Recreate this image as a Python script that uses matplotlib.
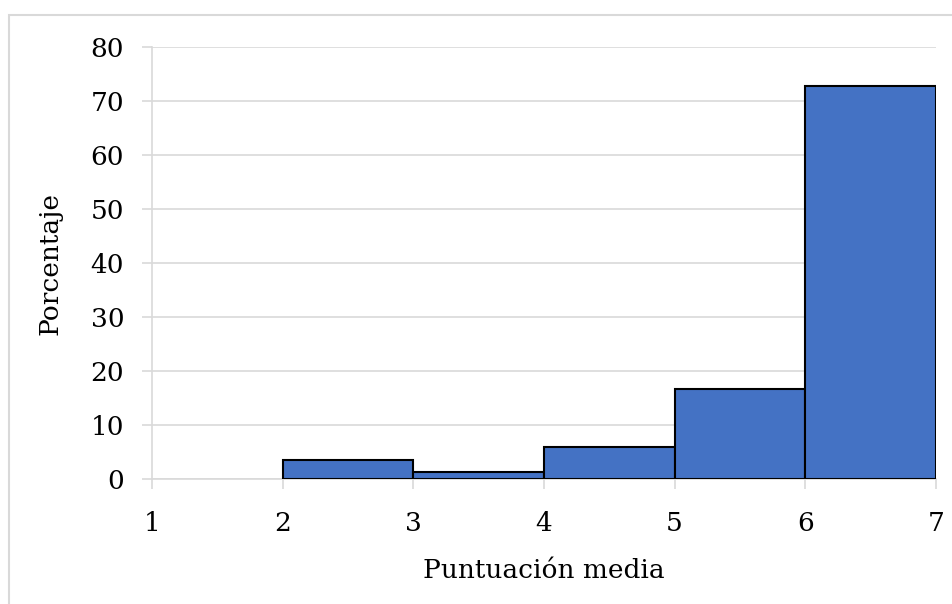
import matplotlib
matplotlib.use("Agg")
import matplotlib.pyplot as plt
from matplotlib.patches import Rectangle
import numpy as np

# histogram of mean score (percentage per bin)
bin_edges = [2, 3, 4, 5, 6, 7]
percentages = [3.5, 1.2, 5.9, 16.7, 72.8]
x_ticks = [1, 2, 3, 4, 5, 6, 7]
y_ticks = [0, 10, 20, 30, 40, 50, 60, 70, 80]

GRID = "#d9d9d9"
BAR = "#4472c4"

plt.rcParams["font.family"] = ["DejaVu Serif"]

fig = plt.figure(figsize=(9.53, 6.04), dpi=100)
ax = fig.add_axes([0.1595, 0.207, 0.8225, 0.715])

# light frame around the chart (runs off the right and bottom edges)
fig.patches.append(Rectangle((0.009, -0.05), 1.1, 1.025, transform=fig.transFigure,
                             fill=False, edgecolor=GRID, linewidth=1.5))

lefts = np.array(bin_edges[:-1])
widths = np.diff(bin_edges)
ax.bar(lefts, percentages, width=widths, align="edge", color=BAR,
       edgecolor="black", linewidth=1.5, zorder=3)

ax.set_xlim(1, 7)
ax.set_ylim(0, 80)
ax.set_xticks(x_ticks)
ax.set_yticks(y_ticks)
ax.grid(axis="y", color=GRID, linewidth=1.2, zorder=0)

for side in ("top", "right"):
    ax.spines[side].set_visible(False)
for side in ("left", "bottom"):
    ax.spines[side].set_color(GRID)
    ax.spines[side].set_linewidth(1.2)

ax.tick_params(axis="both", colors=GRID, labelcolor="black", labelsize=19,
               length=7, width=1.2)
ax.tick_params(axis="y", pad=13)
ax.tick_params(axis="x", pad=16)

ax.set_xlabel("Puntuación media", fontsize=19, labelpad=16)
ax.set_ylabel("Porcentaje", fontsize=19, labelpad=20)

fig.savefig("out.png", dpi=100)
